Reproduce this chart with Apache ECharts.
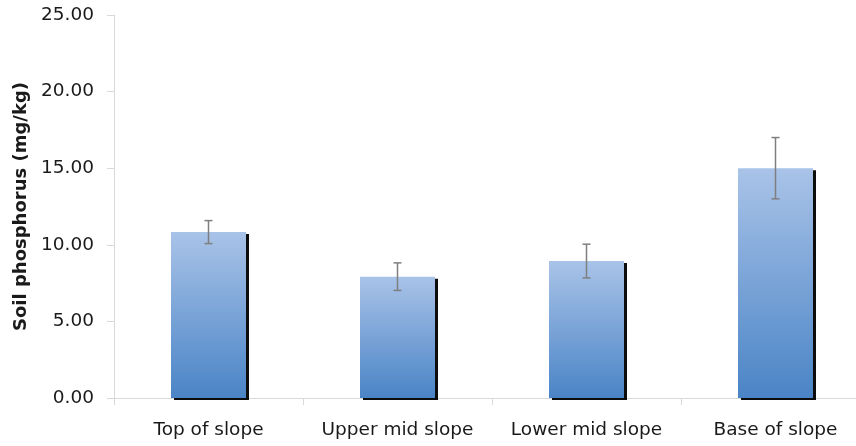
<!DOCTYPE html>
<html>
<head>
<meta charset="utf-8">
<script src="https://cdn.jsdelivr.net/npm/echarts@6/dist/echarts.min.js"></script>
<style>html,body{margin:0;padding:0;background:#fff}#c{width:856px;height:446px}</style>
</head>
<body>
<div id="c"></div>
<script>
const categories = ['Top of slope', 'Upper mid slope', 'Lower mid slope', 'Base of slope'];
const means = [10.83, 7.92, 8.94, 15.0];
const errors = [0.75, 0.9, 1.1, 2.0];
const yTicks = {min: 0, max: 25, interval: 5};

const chart = echarts.init(document.getElementById('c'));
const errData = categories.map((c, i) => [i, means[i] - errors[i], means[i] + errors[i]]);
chart.setOption({
  animation: false,
  grid: {left: 114, right: -14, top: 15, bottom: 48, outerBoundsMode: 'none', containLabel: false},
  xAxis: {
    type: 'category',
    data: categories,
    axisLine: {lineStyle: {color: '#d9d9d9', width: 1}},
    axisTick: {show: true, length: 7, lineStyle: {color: '#d9d9d9'}},
    axisLabel: {interval: 0, color: '#1a1a1a', fontSize: 18.5, fontFamily: 'DejaVu Sans', margin: 23}
  },
  yAxis: {
    type: 'value',
    min: yTicks.min, max: yTicks.max, interval: yTicks.interval,
    name: 'Soil phosphorus (mg/kg)',
    nameLocation: 'middle',
    nameGap: 81,
    nameTextStyle: {color: '#1a1a1a', fontSize: 18, fontWeight: 'bold', fontFamily: 'DejaVu Sans'},
    axisLine: {show: true, lineStyle: {color: '#d9d9d9'}},
    axisTick: {show: true, length: 7, lineStyle: {color: '#d9d9d9'}},
    splitLine: {show: false},
    axisLabel: {color: '#1a1a1a', fontSize: 18.5, fontFamily: 'DejaVu Sans', margin: 20,
      formatter: v => v.toFixed(2)}
  },
  series: [
    {
      type: 'bar',
      data: means,
      barWidth: 75,
      itemStyle: {
        color: new echarts.graphic.LinearGradient(0, 0, 0, 1, [
          {offset: 0, color: '#a9c3e8'},
          {offset: 1, color: '#4a84c6'}
        ]),
        shadowColor: 'rgba(0,0,0,0.95)',
        shadowOffsetX: 3,
        shadowOffsetY: 2,
        shadowBlur: 0
      }
    },
    {
      type: 'custom',
      data: errData,
      z: 10,
      renderItem: function (params, api) {
        const x = api.value(0);
        const lo = api.coord([x, api.value(1)]);
        const hi = api.coord([x, api.value(2)]);
        const cap = 4;
        const style = {stroke: '#7f7f7f', lineWidth: 1.5};
        return {
          type: 'group',
          children: [
            {type: 'line', shape: {x1: lo[0], y1: lo[1], x2: hi[0], y2: hi[1]}, style},
            {type: 'line', shape: {x1: hi[0] - cap, y1: hi[1], x2: hi[0] + cap, y2: hi[1]}, style},
            {type: 'line', shape: {x1: lo[0] - cap, y1: lo[1], x2: lo[0] + cap, y2: lo[1]}, style}
          ]
        };
      }
    }
  ]
});
</script>
</body>
</html>
